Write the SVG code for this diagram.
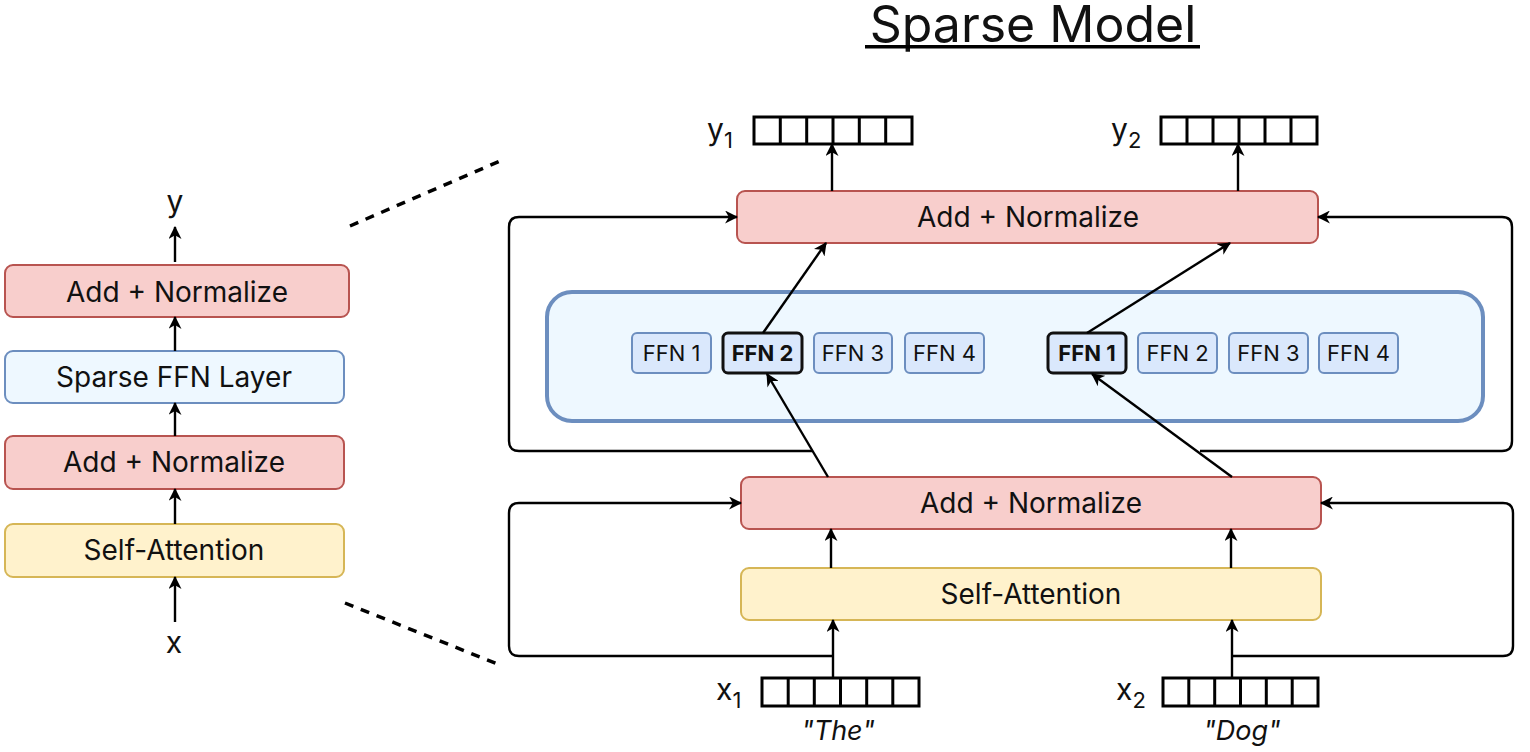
<svg xmlns="http://www.w3.org/2000/svg" width="1530" height="752" viewBox="0 0 1530 752">
<defs>
<marker id="ah" viewBox="0 0 12 12" refX="11" refY="6" markerWidth="13" markerHeight="13" markerUnits="userSpaceOnUse" orient="auto">
<path d="M0,0 L12,6 L0,12 L3.5,6 z" fill="#000"/>
</marker>
<style>
text{font-family:Inter,"Liberation Sans",sans-serif;fill:#111;}
.lbl{font-size:28px;text-anchor:middle;}
.ffnt{font-size:22px;text-anchor:middle;}
.red{fill:#f8cecc;stroke:#b85450;stroke-width:2;}
.yel{fill:#fff2cc;stroke:#d6b656;stroke-width:2;}
.blu{fill:#eef8ff;stroke:#6c8ebf;stroke-width:2;}
.cont{fill:#eef8ff;stroke:#6c8ebf;stroke-width:4;}
.ffn{fill:#dae8fc;stroke:#6c8ebf;stroke-width:2;}
.sel{fill:#dae8fc;stroke:#111;stroke-width:3;}
.vec{fill:#fff;stroke:#000;stroke-width:3;}
.a{fill:none;stroke:#000;stroke-width:2.4;marker-end:url(#ah);}
.dash{fill:none;stroke:#000;stroke-width:3.5;stroke-dasharray:9 8;}
</style>
</defs>
<rect width="1530" height="752" fill="#fff"/>

<g id="title">
<text x="1033" y="42" style="font-size:50px;text-anchor:middle">Sparse Model</text>
<rect x="865" y="45" width="335" height="3.5" fill="#000"/>
</g>

<!-- left column -->
<g id="left-y"><text x="175" y="212" style="font-size:30px;text-anchor:middle">y</text></g>
<g id="left-addnorm2"><rect class="red" x="5" y="265" width="344" height="52" rx="8"/><text class="lbl" x="177" y="302">Add + Normalize</text></g>
<g id="left-sparse"><rect class="blu" x="5" y="351" width="339" height="52" rx="8"/><text class="lbl" x="174" y="387">Sparse FFN Layer</text></g>
<g id="left-addnorm1"><rect class="red" x="5" y="436" width="339" height="53" rx="8"/><text class="lbl" x="174" y="472">Add + Normalize</text></g>
<g id="left-attn"><rect class="yel" x="5" y="524" width="339" height="53" rx="8"/><text class="lbl" x="174" y="560">Self-Attention</text></g>
<g id="left-x"><text x="174" y="653" style="font-size:30px;text-anchor:middle">x</text></g>

<!-- right side -->
<g id="ffn-container"><rect class="cont" x="547" y="292" width="936" height="129" rx="25"/></g>

<g id="y1-vec">
<rect class="vec" x="754" y="117" width="158" height="27"/>
<path class="vec" d="M780.3,117 V144 M806.7,117 V144 M833,117 V144 M859.3,117 V144 M885.7,117 V144"/>
<text x="707" y="140" style="font-size:30px">y<tspan dy="8" style="font-size:22px">1</tspan></text>
</g>
<g id="y2-vec">
<rect class="vec" x="1161" y="117" width="156" height="27"/>
<path class="vec" d="M1187,117 V144 M1213,117 V144 M1239,117 V144 M1265,117 V144 M1291,117 V144"/>
<text x="1111" y="140" style="font-size:30px">y<tspan dy="8" style="font-size:22px">2</tspan></text>
</g>

<g id="addnorm-top"><rect class="red" x="737" y="191" width="581" height="52" rx="8"/><text class="lbl" x="1028" y="227">Add + Normalize</text></g>

<g id="ffn-a1"><rect class="ffn" x="632" y="333" width="79" height="40" rx="5"/><text class="ffnt" x="671.5" y="361">FFN 1</text></g>
<g id="ffn-a2"><rect class="sel" x="723" y="333" width="79" height="40" rx="5"/><text class="ffnt" x="762.5" y="361" style="font-weight:bold">FFN 2</text></g>
<g id="ffn-a3"><rect class="ffn" x="814" y="333" width="78" height="40" rx="5"/><text class="ffnt" x="853" y="361">FFN 3</text></g>
<g id="ffn-a4"><rect class="ffn" x="905" y="333" width="79" height="40" rx="5"/><text class="ffnt" x="944.5" y="361">FFN 4</text></g>
<g id="ffn-b1"><rect class="sel" x="1048" y="333" width="78" height="40" rx="5"/><text class="ffnt" x="1087" y="361" style="font-weight:bold">FFN 1</text></g>
<g id="ffn-b2"><rect class="ffn" x="1138" y="333" width="79" height="40" rx="5"/><text class="ffnt" x="1177.5" y="361">FFN 2</text></g>
<g id="ffn-b3"><rect class="ffn" x="1229" y="333" width="79" height="40" rx="5"/><text class="ffnt" x="1268.5" y="361">FFN 3</text></g>
<g id="ffn-b4"><rect class="ffn" x="1319" y="333" width="79" height="40" rx="5"/><text class="ffnt" x="1358.5" y="361">FFN 4</text></g>

<g id="addnorm-bot"><rect class="red" x="741" y="477" width="580" height="52" rx="8"/><text class="lbl" x="1031" y="513">Add + Normalize</text></g>
<g id="attn"><rect class="yel" x="741" y="568" width="580" height="52" rx="8"/><text class="lbl" x="1031" y="604">Self-Attention</text></g>

<g id="x1-vec">
<rect class="vec" x="762" y="678" width="157" height="28"/>
<path class="vec" d="M788.2,678 V706 M814.3,678 V706 M840.5,678 V706 M866.7,678 V706 M892.8,678 V706"/>
<text x="716" y="700" style="font-size:30px">x<tspan dy="8" style="font-size:22px">1</tspan></text>
<text x="838" y="740" style="font-size:27px;font-style:italic;text-anchor:middle">"The"</text>
</g>
<g id="x2-vec">
<rect class="vec" x="1163" y="678" width="155" height="28"/>
<path class="vec" d="M1188.8,678 V706 M1214.7,678 V706 M1240.5,678 V706 M1266.3,678 V706 M1292.2,678 V706"/>
<text x="1116" y="700" style="font-size:30px">x<tspan dy="8" style="font-size:22px">2</tspan></text>
<text x="1242" y="740" style="font-size:27px;font-style:italic;text-anchor:middle">"Dog"</text>
</g>

<g id="connectors">
<path class="a" d="M175,262 V227"/>
<path class="a" d="M175,351 V317"/>
<path class="a" d="M175,436 V403"/>
<path class="a" d="M175,524 V489"/>
<path class="a" d="M175,622 V577"/>
<path class="dash" d="M350,226 L500,161"/>
<path class="dash" d="M345,603 L500,665"/>
<path class="a" d="M832,191 V144"/>
<path class="a" d="M1238,191 V144"/>
<path class="a" d="M763,333 L826,243"/>
<path class="a" d="M1087,333 L1230,243"/>
<path class="a" d="M828,477 L767,374"/>
<path class="a" d="M1232,477 L1092,374"/>
<path class="a" d="M812,451 H519 Q509,451 509,441 V227 Q509,217 519,217 H737"/>
<path class="a" d="M1200,451 H1502 Q1512,451 1512,441 V227 Q1512,217 1502,217 H1318"/>
<path class="a" d="M831,568 V529"/>
<path class="a" d="M1231,568 V529"/>
<path class="a" d="M833,678 V620"/>
<path class="a" d="M1232,678 V620"/>
<path class="a" d="M833,656 H519 Q509,656 509,646 V513 Q509,503 519,503 H741"/>
<path class="a" d="M1232,656 H1503 Q1513,656 1513,646 V513 Q1513,503 1503,503 H1321"/>
</g>
</svg>
